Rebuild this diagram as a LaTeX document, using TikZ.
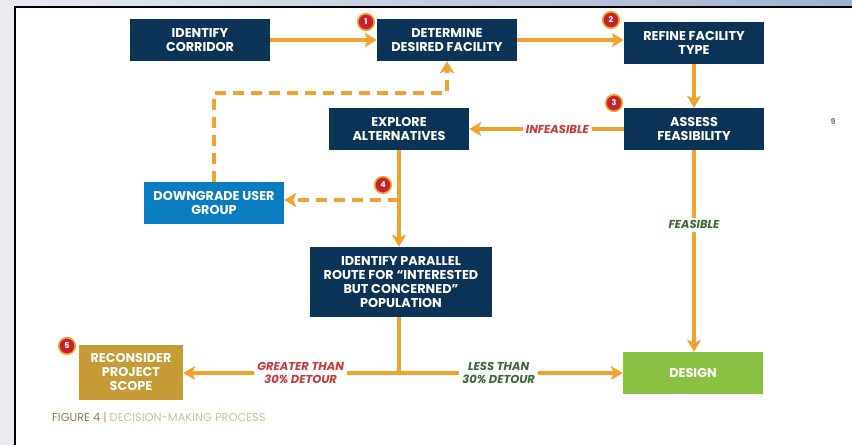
\documentclass[tikz,border=0pt]{standalone}
\usepackage{fontspec}
\setmainfont{Poppins}
\usetikzlibrary{arrows.meta}
\definecolor{navy}{HTML}{0B3358}
\definecolor{skyblue}{HTML}{0A7CC2}
\definecolor{gold}{HTML}{C69A34}
\definecolor{leaf}{HTML}{8BC143}
\definecolor{arrowc}{HTML}{F4A02C}
\definecolor{badgered}{HTML}{C4232B}
\definecolor{redlab}{HTML}{C8393C}
\definecolor{greenlab}{HTML}{3E6537}
\definecolor{capdark}{HTML}{8A7B4C}
\definecolor{caplight}{HTML}{CBBF98}
\definecolor{bandleft}{HTML}{E9EBF0}
\definecolor{bandright}{HTML}{A0B1CF}
\newcommand{\boxfont}{\bfseries\fontsize{12.8}{14.2}\selectfont}
\newcommand{\labfont}{\bfseries\itshape\fontsize{11.5}{13.5}\selectfont}
\tikzset{
  x=1pt, y=-1pt,
  box/.style={fill=navy, text=white, minimum width=140pt, minimum height=42pt,
    align=center, font=\boxfont, inner sep=2pt},
  link/.style={draw=arrowc, line width=3.6pt},
  flow/.style={link, -{Stealth[length=12pt,width=14pt,inset=3pt]}},
  dflow/.style={flow, dash pattern=on 11pt off 7pt},
  lab/.style={fill=white, font=\labfont, align=center, inner sep=3pt},
  badge/.style={circle, fill=badgered, draw=arrowc, line width=1.6pt,
    minimum size=16.5pt, inner sep=0pt, text=white,
    font=\bfseries\fontsize{8}{8}\selectfont}
}
\begin{document}
\begin{tikzpicture}
\useasboundingbox (0,0) rectangle (852,445);
% window frame
\fill[white] (0,0) rectangle (852,445);
\shade[left color=bandleft, right color=bandright] (0,0) rectangle (852,6.5);
\fill[bandleft] (0,6.5) rectangle (14,445);
\draw[black, line width=1.6pt] (14.8,445) -- (14.8,7) -- (852,7);

% process boxes
\node[box] (corridor) at (200,40) {IDENTIFY\\CORRIDOR};
\node[box] (determine) at (447,40) {DETERMINE\\DESIRED FACILITY};
\node[box] (refine) at (694,43) {REFINE FACILITY\\TYPE};
\node[box] (assess) at (694,129) {ASSESS\\FEASIBILITY};
\node[box] (explore) at (399,129) {EXPLORE\\ALTERNATIVES};
\node[box, fill=skyblue] (downgrade) at (214,203) {DOWNGRADE USER\\GROUP};
\node[box, minimum width=182pt, minimum height=70pt] (parallel) at (401,282)
  {IDENTIFY PARALLEL\\ROUTE FOR “INTERESTED\\BUT CONCERNED”\\POPULATION};
\node[box, fill=gold, minimum width=104pt, minimum height=55pt] (reconsider) at (131,372)
  {RECONSIDER\\PROJECT\\SCOPE};
\node[box, fill=leaf] (design) at (693,373) {DESIGN};

% junctions
\coordinate (j4) at (399,200);
\coordinate (j5) at (399,373);

% connectors
\draw[flow] (corridor.east) -- (determine.west);
\draw[flow] (determine.east) -- (refine.west |- determine.east);
\draw[flow] (refine.south) -- (assess.north);
\draw[flow] (assess.west) -- node[lab, text=redlab, pos=0.43] {INFEASIBLE} (explore.east);
\draw[flow] (explore.south) -- (explore.south |- parallel.north);
\draw[dflow] (j4) -- (downgrade.east |- j4);
\draw[dflow] (downgrade.north) |- ([yshift=-32pt]determine.south) -- (determine.south);
\draw[flow] (assess.south) -- node[lab, text=greenlab, pos=0.37] {FEASIBLE} (assess.south |- design.north);
\draw[link] (parallel.south -| j5) -- (j5);
\draw[flow] ([xshift=1.8pt]j5) -- node[lab, text=redlab, pos=0.46] {GREATER THAN\\30\% DETOUR} (reconsider.east |- j5);
\draw[flow] ([xshift=-1.8pt]j5) -- node[lab, text=greenlab, pos=0.45] {LESS THAN\\30\% DETOUR} (design.west |- j5);

% step badges
\node[badge] (b1) at (366,22) {1};
\node[badge] (b2) at (611,20) {2};
\node[badge] (b3) at (614,103) {3};
\node[badge] (b4) at (383,185) {4};
\node[badge] (b5) at (67,346) {5};

% page number and caption
\node[text=gray, font=\bfseries\fontsize{8}{8}\selectfont] (page) at (833,122) {9};
\node[anchor=west, inner sep=0pt, font=\fontsize{11.4}{11.4}\selectfont] (caption) at (52,418)
  {\textcolor{capdark}{FIGURE 4} \textcolor{gold}{|} \textcolor{caplight}{DECISION-MAKING PROCESS}};
\end{tikzpicture}
\end{document}
